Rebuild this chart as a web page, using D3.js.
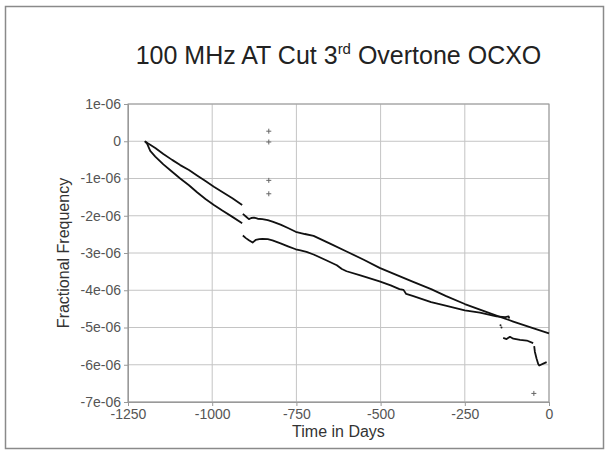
<!DOCTYPE html>
<html>
<head>
<meta charset="utf-8">
<script src="https://cdn.jsdelivr.net/npm/d3@7"></script>
<style>
body{margin:0;background:#fff;}
text{font-family:"Liberation Sans",Arial,sans-serif;}
</style>
</head>
<body>
<script>
var width = 607;
var height = 451;

// days, fractional frequency in units of 1e-06
var upperA = [[-1200,0],[-1190,-0.06],[-1169,-0.18],[-1145,-0.34],[-1119,-0.50],[-1095,-0.64],
	[-1069,-0.77],[-1045,-0.92],[-1020,-1.07],[-995,-1.22],[-970,-1.36],[-940,-1.53],[-911,-1.71]];
var lowerA = [[-1200,0],[-1193,-0.07],[-1184,-0.26],[-1169,-0.41],[-1145,-0.62],[-1119,-0.82],
	[-1095,-1.00],[-1069,-1.18],[-1045,-1.37],[-1020,-1.55],[-995,-1.71],[-970,-1.86],[-940,-2.03],[-911,-2.20]];
var upperB = [[-909,-1.95],[-900,-2.02],[-891,-2.09],[-884,-2.06],[-876,-2.05],[-865,-2.08],[-851,-2.09],
	[-835,-2.12],[-821,-2.16],[-797,-2.24],[-775,-2.33],[-752,-2.43],[-725,-2.49],[-699,-2.54],[-650,-2.75],
	[-601,-2.96],[-550,-3.18],[-503,-3.40],[-455,-3.58],[-405,-3.77],[-350,-3.97],[-307,-4.15],[-250,-4.37],
	[-205,-4.52],[-156,-4.68],[-106,-4.84],[-50,-5.01],[0,-5.16]];
var lowerB = [[-909,-2.53],[-900,-2.60],[-891,-2.66],[-880,-2.72],[-871,-2.65],[-860,-2.63],[-851,-2.62],
	[-835,-2.63],[-821,-2.66],[-797,-2.74],[-775,-2.82],[-752,-2.90],[-738,-2.93],[-720,-2.97],[-699,-3.04],
	[-660,-3.20],[-630,-3.33],[-615,-3.43],[-601,-3.49],[-560,-3.60],[-503,-3.76],[-470,-3.87],[-444,-3.97],
	[-432,-3.99],[-424,-4.10],[-405,-4.15],[-350,-4.32],[-307,-4.41],[-250,-4.54],[-205,-4.60],[-156,-4.70],
	[-130,-4.72],[-120,-4.70],[-118,-4.76]];
var lowerC = [[-136,-5.28],[-126,-5.31],[-116,-5.25],[-106,-5.30],[-86,-5.33],[-66,-5.35],[-47,-5.42]];
var lowerD = [[-44,-5.50],[-42,-5.65],[-37,-5.83],[-32,-5.98],[-29,-6.02],[-17,-5.97],[-7,-5.93]];
var dots = [[-144,-4.94],[-141,-5.00]];
var outliers = [[-832,0.27],[-832,-0.02],[-832,-1.05],[-832,-1.41],[-45,-6.77]];

var xTicks = [-1250,-1000,-750,-500,-250,0];
var xTickLabels = ["-1250","-1000","-750","-500","-250","0"];
var yTicks = [1,0,-1,-2,-3,-4,-5,-6,-7];
var yTickLabels = ["1e-06","0","-1e-06","-2e-06","-3e-06","-4e-06","-5e-06","-6e-06","-7e-06"];

var padding = {top:104,right:58,bottom:49,left:128};

var svg = d3.select("body")
.append("svg")
.attr("width",width)
.attr("height",height);

svg.append("rect")
.attr("x",5.5).attr("y",6.5)
.attr("width",598).attr("height",442)
.attr("fill","none")
.attr("stroke","#8a8a8a")
.attr("stroke-width",1.5);

var xScale = d3.scaleLinear()
.domain([-1250,0])
.range([padding.left,width - padding.right]);

var yScale = d3.scaleLinear()
.domain([-7,1])
.range([height - padding.bottom,padding.top]);

// grid
svg.append("g")
.selectAll("line")
.data(xTicks)
.enter()
.append("line")
.attr("x1",function(d){return xScale(d);})
.attr("x2",function(d){return xScale(d);})
.attr("y1",yScale(1))
.attr("y2",yScale(-7))
.attr("stroke","#c4c4c4");

svg.append("g")
.selectAll("line")
.data(yTicks)
.enter()
.append("line")
.attr("x1",xScale(-1250))
.attr("x2",xScale(0))
.attr("y1",function(d){return yScale(d);})
.attr("y2",function(d){return yScale(d);})
.attr("stroke","#c4c4c4");

var xAxis = d3.axisBottom(xScale)
.tickValues(xTicks)
.tickSize(4)
.tickPadding(3)
.tickFormat(function(d,i){return xTickLabels[i];});

var yAxis = d3.axisLeft(yScale)
.tickValues(yTicks)
.tickSize(4)
.tickPadding(3)
.tickFormat(function(d,i){return yTickLabels[i];});

var gx = svg.append("g")
.attr("transform","translate(0," + yScale(-7) + ")")
.call(xAxis);

var gy = svg.append("g")
.attr("transform","translate(" + xScale(-1250) + ",0)")
.call(yAxis);

[gx,gy].forEach(function(g){
	g.select(".domain").attr("stroke","#999");
	g.selectAll(".tick line").attr("stroke","#999");
	g.selectAll(".tick text")
	.attr("font-size",14)
	.attr("fill","#555")
	.attr("font-family","Liberation Sans, Arial, sans-serif");
});

// frame top and right
svg.append("rect")
.attr("x",xScale(-1250)).attr("y",yScale(1))
.attr("width",xScale(0) - xScale(-1250))
.attr("height",yScale(-7) - yScale(1))
.attr("fill","none")
.attr("stroke","#999");

var linePath = d3.line()
.x(function(d){return xScale(d[0]);})
.y(function(d){return yScale(d[1]);});

var segments = [upperA,lowerA,upperB,lowerB,lowerC,lowerD];

svg.selectAll("path.trace")
.data(segments)
.enter()
.append("path")
.attr("class","trace")
.attr("d",function(d){return linePath(d);})
.attr("fill","none")
.attr("stroke","#111")
.attr("stroke-width",1.8)
.attr("stroke-linejoin","round");

svg.selectAll("circle.dot")
.data(dots)
.enter()
.append("circle")
.attr("class","dot")
.attr("cx",function(d){return xScale(d[0]);})
.attr("cy",function(d){return yScale(d[1]);})
.attr("r",1)
.attr("fill","#222");

var plus = svg.append("g")
.selectAll("g")
.data(outliers)
.enter()
.append("g")
.attr("transform",function(d){return "translate(" + xScale(d[0]) + "," + yScale(d[1]) + ")";});

plus.append("line").attr("x1",-2.5).attr("x2",2.5).attr("stroke","#666").attr("stroke-width",1);
plus.append("line").attr("y1",-2.5).attr("y2",2.5).attr("stroke","#666").attr("stroke-width",1);

// titles
var title = svg.append("text")
.attr("x",(xScale(-1250) + xScale(0)) / 2)
.attr("y",64)
.attr("text-anchor","middle")
.attr("font-size",25)
.attr("fill","#222");
title.append("tspan").text("100 MHz AT Cut 3");
title.append("tspan").attr("font-size",15).attr("dy",-10).text("rd");
title.append("tspan").attr("dy",10).text(" Overtone OCXO");

svg.append("text")
.attr("x",(xScale(-1250) + xScale(0)) / 2)
.attr("y",437)
.attr("text-anchor","middle")
.attr("font-size",16)
.attr("fill","#333")
.text("Time in Days");

svg.append("text")
.attr("transform","translate(69," + ((yScale(1) + yScale(-7)) / 2) + ") rotate(-90)")
.attr("text-anchor","middle")
.attr("font-size",16)
.attr("fill","#333")
.text("Fractional Frequency");
</script>
</body>
</html>
